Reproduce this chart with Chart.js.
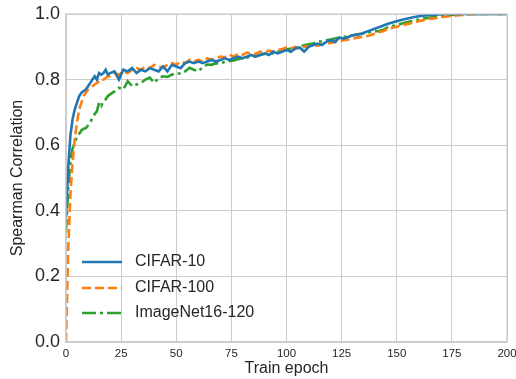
<!DOCTYPE html>
<html>
<head>
<meta charset="utf-8">
<script src="https://cdn.jsdelivr.net/npm/chart.js@4"></script>
<style>
html,body{margin:0;padding:0;background:#fff;}
#wrap{width:516px;height:379px;}
</style>
</head>
<body>
<div id="wrap"><canvas id="c" width="516" height="379"></canvas></div>
<script>
const epochs = [0,1,2,3,4,5,6,7,8,9,10,11,12,13,14,15,16,17,18,19,20,
22,24,26,28,30,32,34,36,38,40,42,44,46,48,50,52,54,56,58,60,62,64,66,68,70,72,74,76,78,80,
82,84,86,88,90,92,94,96,98,100,102,104,106,108,110,112,114,116,118,120,122,124,126,128,130,
132,134,136,138,140,142,144,146,148,150,152,154,156,158,160,162,164,166,168,170,172,174,176,178,180,
182,184,186,188,190,192,194,196,198,200];

const cifar10 = [0.38,0.53,0.63,0.68,0.71,0.73,0.75,0.76,0.765,0.77,0.78,0.79,0.80,0.81,0.80,0.82,0.815,0.82,0.83,0.815,0.82,
0.825,0.80,0.83,0.825,0.835,0.82,0.83,0.825,0.835,0.83,0.825,0.84,0.825,0.845,0.84,0.835,0.85,0.855,0.85,0.855,0.85,0.855,0.86,0.855,0.86,0.865,0.86,0.865,0.87,0.865,
0.87,0.875,0.87,0.875,0.88,0.875,0.885,0.88,0.885,0.89,0.885,0.895,0.898,0.885,0.90,0.905,0.91,0.905,0.915,0.92,0.915,0.928,0.925,0.93,0.935,
0.937,0.94,0.945,0.95,0.955,0.96,0.965,0.97,0.974,0.978,0.982,0.985,0.988,0.991,0.993,0.995,0.996,0.997,0.998,0.999,1.0,1.0,1.0,1.0,1.0,
1.0,1.0,1.0,1.0,1.0,1.0,1.0,1.0,1.0,1.0];

const cifar100 = [0.0,0.28,0.45,0.55,0.62,0.67,0.71,0.73,0.75,0.76,0.77,0.775,0.78,0.785,0.79,0.795,0.80,0.80,0.805,0.81,0.81,
0.82,0.815,0.825,0.82,0.83,0.835,0.83,0.84,0.835,0.845,0.84,0.837,0.845,0.85,0.845,0.855,0.85,0.86,0.855,0.86,0.855,0.865,0.86,0.865,0.87,0.868,0.876,0.87,0.878,0.875,
0.882,0.88,0.878,0.885,0.882,0.888,0.885,0.89,0.893,0.898,0.895,0.90,0.893,0.90,0.902,0.905,0.903,0.908,0.91,0.912,0.915,0.917,0.92,0.922,0.925,
0.928,0.93,0.932,0.935,0.94,0.944,0.948,0.955,0.958,0.961,0.965,0.968,0.971,0.975,0.978,0.981,0.984,0.986,0.988,0.99,0.992,0.993,0.995,0.996,0.997,
0.998,0.999,1.0,1.0,1.0,1.0,1.0,1.0,1.0,1.0];

const imagenet = [0.333,0.47,0.55,0.59,0.61,0.625,0.635,0.645,0.65,0.652,0.66,0.67,0.683,0.695,0.703,0.73,0.72,0.735,0.74,0.75,0.755,
0.764,0.775,0.77,0.795,0.78,0.785,0.79,0.80,0.806,0.79,0.805,0.81,0.808,0.815,0.82,0.818,0.825,0.836,0.83,0.825,0.838,0.846,0.845,0.85,0.848,0.855,0.856,0.858,0.862,0.865,
0.867,0.87,0.872,0.875,0.878,0.882,0.88,0.885,0.888,0.892,0.895,0.898,0.90,0.905,0.908,0.91,0.915,0.917,0.92,0.922,0.925,0.928,0.93,0.932,0.935,
0.938,0.94,0.942,0.945,0.947,0.948,0.952,0.96,0.963,0.966,0.97,0.974,0.977,0.98,0.983,0.986,0.988,0.99,0.992,0.994,0.996,0.997,0.998,0.999,1.0,
1.0,1.0,1.0,1.0,1.0,1.0,1.0,1.0,1.0,1.0];

const seriesNames = ['CIFAR-10','CIFAR-100','ImageNet16-120'];
const xTicks = [0,25,50,75,100,125,150,175,200];
const yTicks = [0.0,0.2,0.4,0.6,0.8,1.0];
const xTitle = 'Train epoch';
const yTitle = 'Spearman Correlation';

const FONT = "'Liberation Sans', Arial, sans-serif";
const TXT = '#262626';
const GRID = '#cccccc';

function pts(vals){ return epochs.map((e,i)=>({x:e,y:vals[i]})); }

const styles = [
  {color:'#1f77b4', dash:[]},
  {color:'#ff7f0e', dash:[9,4]},
  {color:'#2ca02c', dash:[14,4,3,4]}
];
const allVals = [cifar10, cifar100, imagenet];

const datasets = allVals.map((v,i)=>({
  label: seriesNames[i],
  data: pts(v),
  borderColor: styles[i].color,
  backgroundColor: styles[i].color,
  borderDash: styles[i].dash,
  borderWidth: 2.6,
  pointRadius: 0,
  tension: 0,
  fill: false
}));

const overlay = {
  id:'overlay',
  afterDraw(chart){
    const ctx = chart.ctx, ca = chart.chartArea;
    ctx.save();
    ctx.fillStyle = TXT;
    ctx.font = '16px ' + FONT;
    ctx.textAlign = 'center';
    ctx.textBaseline = 'middle';
    ctx.fillText(xTitle, (ca.left+ca.right)/2, 369);
    ctx.save();
    ctx.translate(18, (ca.top+ca.bottom)/2);
    ctx.rotate(-Math.PI/2);
    ctx.fillText(yTitle, 0, 0);
    ctx.restore();
    const rows = [262, 288, 313];
    ctx.font = '16px ' + FONT;
    ctx.textAlign = 'left';
    seriesNames.forEach((n,i)=>{
      ctx.beginPath();
      ctx.strokeStyle = styles[i].color;
      ctx.lineWidth = 2.6;
      ctx.setLineDash(styles[i].dash);
      ctx.moveTo(82, rows[i]);
      ctx.lineTo(122, rows[i]);
      ctx.stroke();
      ctx.setLineDash([]);
      ctx.fillStyle = TXT;
      ctx.fillText(n, 135, rows[i]);
    });
    ctx.restore();
  }
};

new Chart(document.getElementById('c'), {
  type:'line',
  data:{datasets},
  options:{
    responsive:false,
    animation:false,
    devicePixelRatio:1,
    layout:{padding:{top:14,right:9,left:0,bottom:0}},
    plugins:{legend:{display:false},tooltip:{enabled:false},title:{display:false}},
    scales:{
      x:{
        type:'linear', min:0, max:200,
        afterBuildTicks(s){ s.ticks = xTicks.map(v=>({value:v})); },
        afterFit(s){ s.height = 37; s.paddingLeft = 0; s.paddingRight = 0; },
        grid:{color:GRID, lineWidth:1, drawTicks:false},
        border:{color:GRID, width:1.25},
        ticks:{color:TXT, font:{family:FONT,size:11.5}, padding:5, maxRotation:0,
          callback:(v)=>String(v)}
      },
      y:{
        type:'linear', min:0, max:1,
        afterBuildTicks(s){ s.ticks = yTicks.map(v=>({value:v})); },
        afterFit(s){ s.width = 66; s.paddingTop = 0; s.paddingBottom = 0; },
        grid:{color:GRID, lineWidth:1, drawTicks:false},
        border:{color:GRID, width:1.25},
        ticks:{color:TXT, font:{family:FONT,size:18}, padding:6,
          callback:(v)=>Number(v).toFixed(1)}
      }
    }
  },
  plugins:[overlay, {
    id:'frame',
    afterDraw(chart){
      const ctx=chart.ctx, ca=chart.chartArea;
      ctx.save();
      ctx.strokeStyle=GRID; ctx.lineWidth=1.25;
      ctx.strokeRect(ca.left, ca.top, ca.right-ca.left, ca.bottom-ca.top);
      ctx.restore();
    }
  }]
});
</script>
</body>
</html>
